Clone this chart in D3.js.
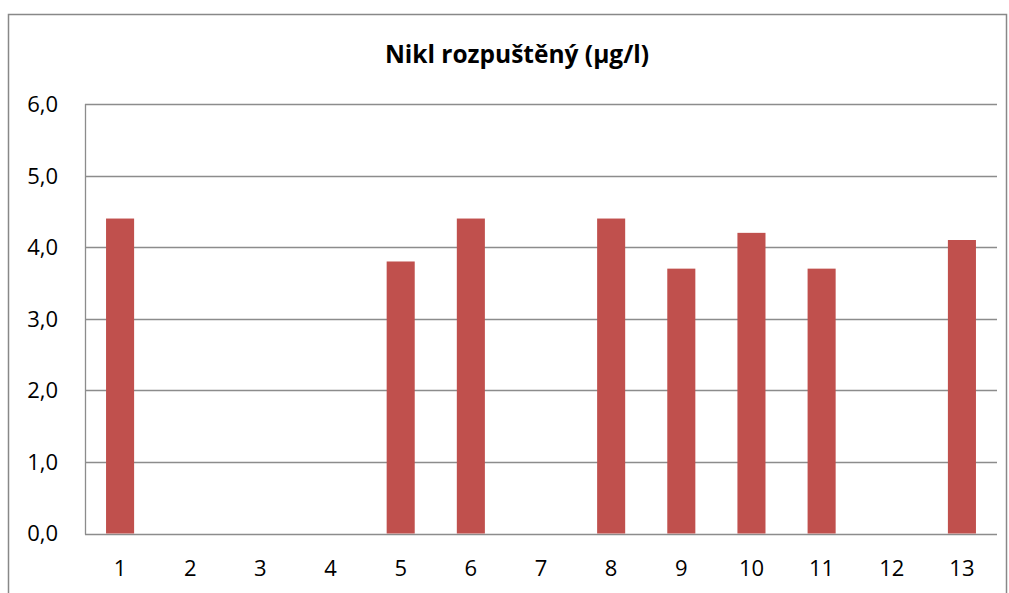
<!DOCTYPE html>
<html><head><meta charset="utf-8">
<script src="https://cdn.jsdelivr.net/npm/d3@7"></script>
<style>body{margin:0;background:#fff}svg{display:block}</style>
</head><body>
<script>
const categories = ["1","2","3","4","5","6","7","8","9","10","11","12","13"];
const values = [4.4, null, null, null, 3.8, 4.4, null, 4.4, 3.7, 4.2, 3.7, null, 4.1];
const yTicks = [0,1,2,3,4,5,6];
const title = "Nikl rozpuštěný (µg/l)";

const W = 1009, H = 593;
const FONT = "'Open Sans', sans-serif";
const svg = d3.select("body").append("svg").attr("width", W).attr("height", H);
svg.append("rect").attr("x", 8.5).attr("y", 14.5).attr("width", 998).attr("height", 600)
  .attr("fill", "#fff").attr("stroke", "#888").attr("stroke-width", 1.5);

const L = 85, R = 997, T = 104, B = 533.5;
const x = d3.scaleBand().domain(categories).range([L, R]).padding(0);
const y = d3.scaleLinear().domain([0, 6]).range([B, T]);
const fmt = d => d3.format(".1f")(d).replace(".", ",");

// gridlines
svg.append("g").selectAll("line").data(yTicks).join("line")
  .attr("x1", L).attr("x2", R)
  .attr("y1", d => Math.round(y(d)) + 0.5).attr("y2", d => Math.round(y(d)) + 0.5)
  .attr("stroke", "#8c8c8c").attr("stroke-width", 1.3);
svg.append("line").attr("x1", L + 0.5).attr("x2", L + 0.5).attr("y1", T).attr("y2", B + 1)
  .attr("stroke", "#8c8c8c").attr("stroke-width", 1.3);

// bars
const bw = x.bandwidth() * 0.4;
svg.append("g").selectAll("rect").data(categories.map((c, i) => ({c, v: values[i]})).filter(d => d.v != null))
  .join("rect")
  .attr("x", d => x(d.c) + x.bandwidth() / 2 - bw / 2)
  .attr("width", bw)
  .attr("y", d => y(d.v))
  .attr("height", d => y(0) - y(d.v))
  .attr("fill", "#C0504D");

// y labels
svg.append("g").selectAll("text").data(yTicks).join("text")
  .attr("x", 58).attr("y", d => y(d)).attr("dy", "0.36em")
  .attr("text-anchor", "end")
  .style("font-family", FONT).style("font-size", "22px").attr("fill", "#000")
  .text(fmt);

// x labels
svg.append("g").selectAll("text").data(categories).join("text")
  .attr("x", d => x(d) + x.bandwidth() / 2).attr("y", 576)
  .attr("text-anchor", "middle")
  .style("font-family", FONT).style("font-size", "22px").attr("fill", "#000")
  .text(d => d);

svg.append("text").attr("x", 517).attr("y", 63).attr("text-anchor", "middle")
  .style("font-family", FONT).style("font-size", "24.5px").style("font-weight", "bold")
  .text(title);
</script>
</body></html>
